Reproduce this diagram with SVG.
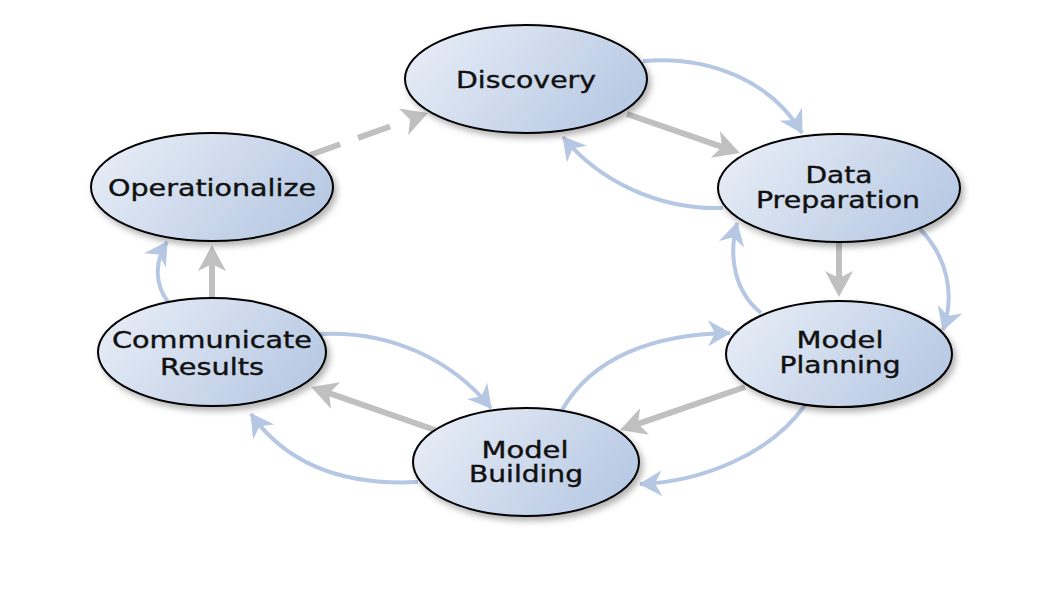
<svg xmlns="http://www.w3.org/2000/svg" width="1055" height="607" viewBox="0 0 1055 607">
<defs>
<linearGradient id="fill" x1="0" y1="0.3" x2="1" y2="0.7">
<stop offset="0" stop-color="#e6ecf6"/>
<stop offset="1" stop-color="#b6c8e3"/>
</linearGradient>
<filter id="shadow" x="-20%" y="-20%" width="140%" height="150%">
<feDropShadow dx="3" dy="4" stdDeviation="3" flood-color="#000" flood-opacity="0.3"/>
</filter>
<marker id="grayHead" markerUnits="userSpaceOnUse" markerWidth="40" markerHeight="40" orient="auto" refX="0" refY="0" overflow="visible">
<path d="M19,0 L-7,-14 L0,0 L-7,14 Z" fill="#c0c0c0"/>
</marker>
<marker id="blueHead" markerUnits="userSpaceOnUse" markerWidth="40" markerHeight="40" orient="auto" refX="0" refY="0" overflow="visible">
<path d="M1,0 L-22,-13 L-15,0 L-22,13 Z" fill="#b5c7e3"/>
</marker>
<style>
.node ellipse{fill:url(#fill);stroke:#000;stroke-width:2;filter:url(#shadow);}
.node text{font-family:"DejaVu Sans","Liberation Sans",sans-serif;font-size:23px;fill:#111;stroke:#111;stroke-width:0.4;text-anchor:middle;}
.gray{fill:none;stroke:#c0c0c0;stroke-width:6;marker-end:url(#grayHead);}
.blue{fill:none;stroke:#b5c7e3;stroke-width:4;marker-end:url(#blueHead);}
</style>
</defs>
<rect width="1055" height="607" fill="#fff"/>
<g id="connectors">
<path class="gray" d="M310,155 L410.1,119.4" stroke-dasharray="32,19,34,40"/>
<path class="gray" d="M627,114 L722,146.8"/>
<path class="gray" d="M839,243 L839,278"/>
<path class="gray" d="M745,387 L638,423.8"/>
<path class="gray" d="M435,430 L329,393.2"/>
<path class="gray" d="M212,298 L212,264"/>
<path class="blue" d="M643,61 C710,55 772,82 802,133"/>
<path class="blue" d="M723,208 C660,210 600,182 563,137"/>
<path class="blue" d="M920,229 C946,256 956,292 943,330"/>
<path class="blue" d="M761,313 C735,292 728,258 737,223"/>
<path class="blue" d="M805,405 C770,455 700,482 640,484"/>
<path class="blue" d="M562,410 C592,358 652,334 730,333"/>
<path class="blue" d="M320,334 C390,330 452,360 491,408"/>
<path class="blue" d="M418,482 C340,486 285,462 251,414"/>
<path class="blue" d="M168,302 C155,285 154,262 167,242"/>
</g>
<g id="discovery" class="node">
<ellipse cx="526" cy="79" rx="121" ry="54"/>
<text x="526" y="88" textLength="140" lengthAdjust="spacingAndGlyphs">Discovery</text>
</g>
<g id="data-preparation" class="node">
<ellipse cx="839" cy="188" rx="121" ry="54"/>
<text x="839" y="183" textLength="67" lengthAdjust="spacingAndGlyphs">Data</text>
<text x="838" y="208" textLength="164" lengthAdjust="spacingAndGlyphs">Preparation</text>
</g>
<g id="model-planning" class="node">
<ellipse cx="839" cy="354" rx="113" ry="53"/>
<text x="840" y="348" textLength="87" lengthAdjust="spacingAndGlyphs">Model</text>
<text x="840" y="373" textLength="121" lengthAdjust="spacingAndGlyphs">Planning</text>
</g>
<g id="model-building" class="node">
<ellipse cx="526" cy="462" rx="113" ry="54"/>
<text x="525" y="458" textLength="87" lengthAdjust="spacingAndGlyphs">Model</text>
<text x="526" y="482" textLength="114" lengthAdjust="spacingAndGlyphs">Building</text>
</g>
<g id="communicate-results" class="node">
<ellipse cx="212" cy="352" rx="114" ry="54"/>
<text x="212" y="348" textLength="200" lengthAdjust="spacingAndGlyphs">Communicate</text>
<text x="212" y="375" textLength="104" lengthAdjust="spacingAndGlyphs">Results</text>
</g>
<g id="operationalize" class="node">
<ellipse cx="212" cy="187" rx="121" ry="54"/>
<text x="212" y="196" textLength="208" lengthAdjust="spacingAndGlyphs">Operationalize</text>
</g>
</svg>
